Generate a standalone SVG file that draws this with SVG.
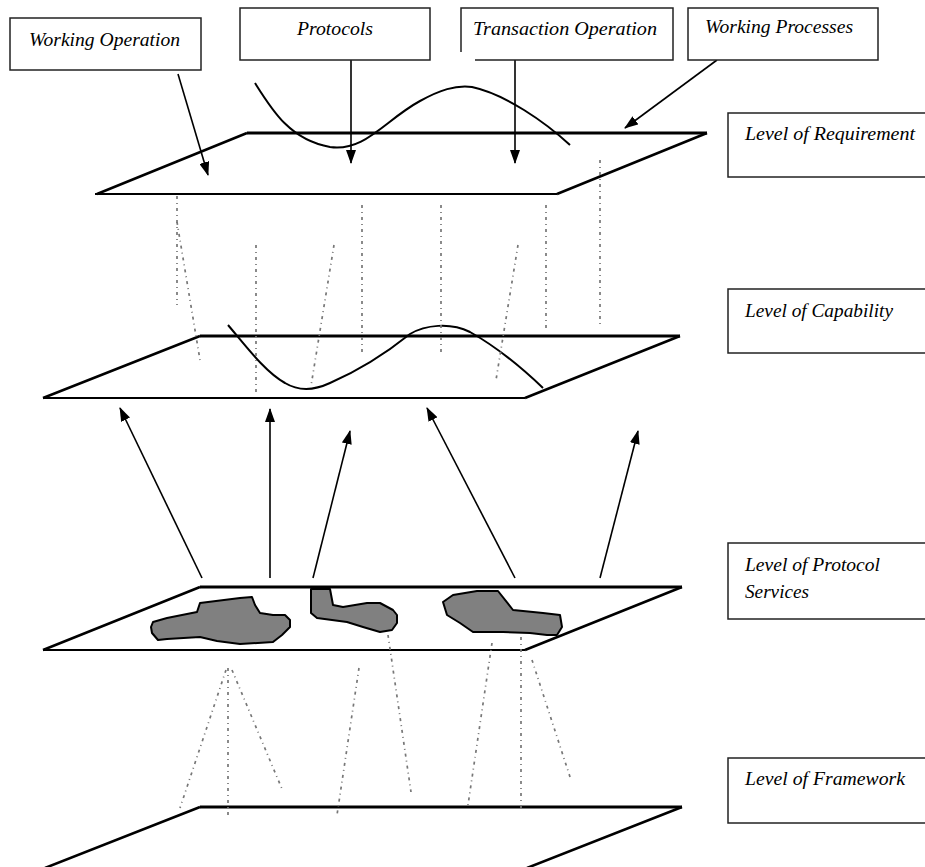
<svg xmlns="http://www.w3.org/2000/svg" width="925" height="867" viewBox="0 0 925 867">
<defs>
<marker id="ah2" viewBox="0 0 14 10" refX="13" refY="5" markerWidth="14" markerHeight="10" markerUnits="userSpaceOnUse" orient="auto">
<path d="M0,0 L14,5 L0,10 z" fill="#000"/>
</marker>
<style>
.box{fill:#fff;stroke:#222;stroke-width:1.5}
.lbl{font-family:"Liberation Serif","DejaVu Serif",serif;font-style:italic;font-size:18px;fill:#000}
.top{stroke:#000;stroke-width:3;fill:none}
.bot{stroke:#000;stroke-width:2;fill:none}
.edge{stroke:#000;stroke-width:2.5;fill:none}
.curve{stroke:#000;stroke-width:2;fill:none}
.dot{stroke:#777;stroke-width:1.7;fill:none;stroke-dasharray:3 4 1 4}
.arr{stroke:#000;stroke-width:1.6;fill:none;marker-end:url(#ah2)}
.blob{fill:#808080;stroke:#000;stroke-width:2;stroke-linejoin:round}
</style>
</defs>
<rect width="925" height="867" fill="#fff"/>

<g id="plane-requirement">
<path class="top" d="M247,133 L707,133"/>
<path class="bot" d="M95,194 L557,194"/>
<path class="edge" d="M97,194 L247,133 M557,194 L707,133"/>
<path class="curve" d="M255,83 C272,110 290,140 330,147 C365,152 385,120 420,101 C440,90 455,85 472,87 C505,94 545,122 570,145"/>
</g>

<g id="plane-capability">
<path class="top" d="M200,336 L680,336"/>
<path class="bot" d="M43,398 L525,398"/>
<path class="edge" d="M43,398 L200,336 M525,398 L680,336"/>
<path class="curve" d="M228,325 C245,345 265,372 285,383 C300,392 315,390 330,383 C360,370 390,350 410,334 C425,325 450,322 470,332 C495,346 520,366 543,388"/>
</g>

<g id="plane-protocol">
<path class="top" d="M200,587 L682,587"/>
<path class="bot" d="M43,650 L525,650"/>
<path class="edge" d="M43,650 L200,587 M525,650 L682,587"/>
<path class="blob" d="M153,622 L167,618 L197,612 L200,603 L240,598 L252,597 L255,605 L260,613 L273,615 L285,615 L290,620 L290,627 L282,635 L273,642 L240,644 L217,641 L200,637 L167,639 L158,640 L152,633 L151,627 Z"/>
<path class="blob" d="M311,589 L330,589 L333,605 L343,607 L367,603 L380,603 L393,610 L397,615 L397,623 L392,630 L380,632 L363,627 L347,622 L317,618 L311,613 Z"/>
<path class="blob" d="M477,591 L498,591 L513,610 L543,613 L560,615 L562,627 L557,635 L547,635 L530,633 L503,632 L473,632 L460,623 L447,615 L443,602 L453,595 Z"/>
</g>

<g id="plane-framework">
<path class="top" d="M200,807 L682,807"/>
<path class="edge" d="M200,807 L45,868 M682,807 L527,868"/>
</g>

<g id="connectors">
<path class="dot" d="M177,196 L177,305"/>
<path class="dot" d="M177,222 L200,360"/>
<path class="dot" d="M256,245 L256,394"/>
<path class="dot" d="M334,245 L311,386"/>
<path class="dot" d="M362,205 L362,353"/>
<path class="dot" d="M441,205 L441,353"/>
<path class="dot" d="M546,205 L546,330"/>
<path class="dot" d="M518,245 L496,380"/>
<path class="dot" d="M600,160 L600,327"/>
<path class="dot" d="M226,670 L180,808"/>
<path class="dot" d="M228,668 L228,815"/>
<path class="dot" d="M232,670 L282,789"/>
<path class="dot" d="M359,668 L337,815"/>
<path class="dot" d="M388,635 L411,792"/>
<path class="dot" d="M492,643 L468,805"/>
<path class="dot" d="M521,637 L521,808"/>
<path class="dot" d="M532,660 L571,780"/>
<path class="arr" d="M202,578 L120,408"/>
<path class="arr" d="M270,578 L270,409"/>
<path class="arr" d="M313,578 L350,431"/>
<path class="arr" d="M515,578 L427,408"/>
<path class="arr" d="M600,578 L638,431"/>
<path class="arr" d="M178,74 L208,175"/>
<path class="arr" d="M351,60 L351,163"/>
<path class="arr" d="M515,60 L515,163"/>
<path class="arr" d="M717,60 L625,128"/>
</g>

<g id="label-working-operation">
<rect class="box" x="10" y="18" width="191" height="52"/>
<text class="lbl" x="29" y="46" textLength="151" lengthAdjust="spacingAndGlyphs">Working Operation</text>
</g>
<g id="label-protocols">
<rect class="box" x="240" y="8" width="190" height="52"/>
<text class="lbl" x="297" y="35" textLength="76" lengthAdjust="spacingAndGlyphs">Protocols</text>
</g>
<g id="label-transaction-operation">
<path class="box" fill="none" d="M475,60 L673,60 L673,8 L461,8 L461,52"/>
<text class="lbl" x="473" y="35" textLength="184" lengthAdjust="spacingAndGlyphs">Transaction Operation</text>
</g>
<g id="label-working-processes">
<rect class="box" x="688" y="8" width="190" height="52"/>
<text class="lbl" x="705" y="33" textLength="148" lengthAdjust="spacingAndGlyphs">Working Processes</text>
</g>

<g id="level-requirement">
<rect class="box" x="728" y="113" width="220" height="64"/>
<text class="lbl" x="745" y="140" textLength="170" lengthAdjust="spacingAndGlyphs">Level of Requirement</text>
</g>
<g id="level-capability">
<rect class="box" x="728" y="289" width="220" height="64"/>
<text class="lbl" x="745" y="317" textLength="148" lengthAdjust="spacingAndGlyphs">Level of Capability</text>
</g>
<g id="level-protocol-services">
<rect class="box" x="728" y="543" width="220" height="76"/>
<text class="lbl" x="745" y="571" textLength="135" lengthAdjust="spacingAndGlyphs">Level of Protocol</text>
<text class="lbl" x="745" y="598" textLength="64" lengthAdjust="spacingAndGlyphs">Services</text>
</g>
<g id="level-framework">
<rect class="box" x="728" y="758" width="220" height="65"/>
<text class="lbl" x="745" y="785" textLength="160" lengthAdjust="spacingAndGlyphs">Level of Framework</text>
</g>
</svg>
